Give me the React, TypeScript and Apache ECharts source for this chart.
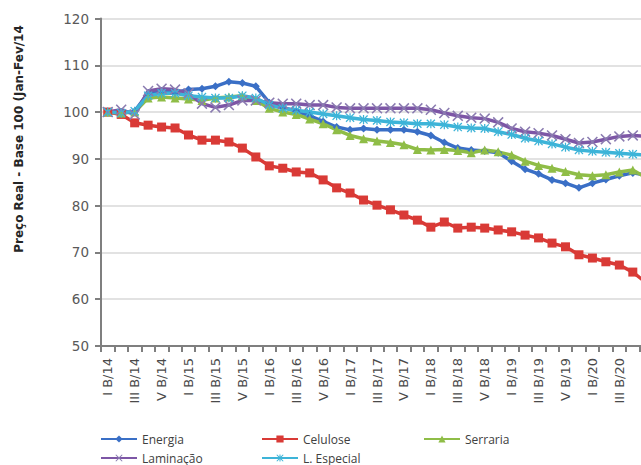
import React, { useEffect, useRef } from "react";
import * as echarts from "echarts";

const categories = [
  "I B/14", "II B/14", "III B/14", "IV B/14", "V B/14", "VI B/14",
  "I B/15", "II B/15", "III B/15", "IV B/15", "V B/15", "VI B/15",
  "I B/16", "II B/16", "III B/16", "IV B/16", "V B/16", "VI B/16",
  "I B/17", "II B/17", "III B/17", "IV B/17", "V B/17", "VI B/17",
  "I B/18", "II B/18", "III B/18", "IV B/18", "V B/18", "VI B/18",
  "I B/19", "II B/19", "III B/19", "IV B/19", "V B/19", "VI B/19",
  "I B/20", "II B/20", "III B/20", "IV B/20", "V B/20",
];

const energia = [
  100, 99.8, 100.2, 104, 104.5, 104.2, 104.8, 105, 105.5, 106.5, 106.2, 105.5,
  102, 101, 100.2, 99.2, 98, 96.8, 96.2, 96.5, 96.2, 96.2, 96.2, 95.8,
  95.0, 93.5, 92.3, 91.9, 91.7, 91.3, 89.5, 87.8, 86.8, 85.5, 84.8, 83.8,
  84.8, 85.6, 86.4, 87, 86.5,
];
const celulose = [
  100, 99.5, 97.7, 97.2, 96.8, 96.6, 95.1, 94.0, 94.0, 93.6, 92.3, 90.4,
  88.5, 88.0, 87.2, 87.0, 85.5, 83.8, 82.7, 81.2, 80.1, 79.1, 78.0, 76.9,
  75.4, 76.5, 75.2, 75.4, 75.2, 74.8, 74.4, 73.7, 73.1, 72.0, 71.2, 69.5,
  68.8, 68.0, 67.3, 65.8, 63.5,
];
const serraria = [
  100, 99.8, 100, 103, 103.2, 103, 102.8, 102.5, 103, 103.2, 103.5, 102.5,
  100.8, 100, 99.5, 98.5, 97.5, 96.2, 95, 94.3, 93.8, 93.5, 93, 92,
  91.9, 92, 91.8, 91.3, 91.9, 91.5, 90.8, 89.5, 88.6, 88, 87.3, 86.6,
  86.4, 86.6, 87.2, 87.6, 86,
];
const laminacao = [
  100, 100.5, 99.5, 104.5, 105, 104.8, 104, 101.8, 101, 101.5, 102.5, 102.5,
  102, 101.8, 101.8, 101.5, 101.5, 101, 100.8, 100.8, 100.8, 100.8, 100.8, 100.8,
  100.5, 99.8, 99.2, 98.8, 98.6, 97.8, 96.5, 95.8, 95.5, 95, 94.2, 93.4,
  93.6, 94.2, 94.8, 95, 94.8,
];
const especial = [
  100, 99.8, 100.2, 103.5, 104, 104, 103.5, 103.2, 103, 103, 103.5, 103,
  101.5, 100.8, 100.4, 100, 99.6, 99.2, 98.8, 98.4, 98.2, 97.9, 97.7, 97.5,
  97.5, 97.3, 96.8, 96.6, 96.5, 95.8, 95.2, 94.4, 93.8, 93.2, 92.5, 91.9,
  91.6, 91.4, 91.2, 91, 90.8,
];

const seriesNames = ["Energia", "Celulose", "Serraria", "Laminação", "L. Especial"];
const yTitle = "Preço Real - Base 100 (Jan-Fev/14";

const X_SYMBOL =
  "path://M0,1 L1,0 L5,4 L9,0 L10,1 L6,5 L10,9 L9,10 L5,6 L1,10 L0,9 L4,5 Z";
const STAR_SYMBOL =
  "path://M0,1 L1,0 L5,4 L9,0 L10,1 L6,5 L10,9 L9,10 L5,6 L1,10 L0,9 L4,5 Z M4.3,0 L4.3,10 L5.7,10 L5.7,0 Z";

export default function App() {
  const ref = useRef<HTMLDivElement>(null);
  useEffect(() => {
    if (!ref.current) return;
    const chart = echarts.init(ref.current, undefined, { renderer: "svg" });
    const font = "DejaVu Sans";
    const legendText = { fontFamily: "Open Sans", fontSize: 12, color: "#404040" };
    const mkLegend = (name: string, left: number, top: number) => ({
      data: [name],
      left,
      top,
      padding: 0,
      itemWidth: 36,
      itemHeight: 9,
      itemGap: 4,
      textStyle: legendText,
    });
    const mk = (
      name: string,
      data: number[],
      lineColor: string,
      markColor: string,
      symbol: string,
      symbolSize: number
    ) => ({
      name,
      type: "line",
      data,
      symbol,
      symbolSize,
      showSymbol: true,
      showAllSymbol: true,
      lineStyle: { color: lineColor, width: 3.5 },
      itemStyle: { color: markColor },
      emphasis: { disabled: true },
    });
    chart.setOption({
      animation: false,
      backgroundColor: "#ffffff",
      grid: { left: 101, right: 0, top: 18.5, bottom: 119, containLabel: false },
      xAxis: {
        type: "category",
        data: categories,
        boundaryGap: true,
        axisLine: { lineStyle: { color: "#7f7f7f", width: 2 } },
        axisTick: { show: true, interval: 0, length: 6, lineStyle: { color: "#7f7f7f", width: 2 } },
        axisLabel: {
          interval: 1,
          rotate: 90,
          margin: 12,
          fontFamily: font,
          fontSize: 13,
          color: "#4a4a4a",
        },
        splitLine: { show: false },
      },
      yAxis: {
        type: "value",
        min: 50,
        max: 120,
        interval: 10,
        axisLine: { show: true, lineStyle: { color: "#7f7f7f", width: 2 } },
        axisTick: { show: true, length: 6, lineStyle: { color: "#7f7f7f", width: 2 } },
        axisLabel: { margin: 12, fontFamily: font, fontSize: 13.5, color: "#595959" },
        splitLine: { show: true, lineStyle: { color: "#d9d9d9", width: 1.5 } },
      },
      legend: [
        mkLegend(seriesNames[0], 100, 433),
        mkLegend(seriesNames[1], 261, 433),
        mkLegend(seriesNames[2], 423, 433),
        mkLegend(seriesNames[3], 100, 452),
        mkLegend(seriesNames[4], 261, 452),
      ],
      graphic: [
        {
          type: "text",
          x: 19,
          y: 139,
          rotation: Math.PI / 2,
          style: {
            text: yTitle,
            font: "bold 12px 'DejaVu Sans'",
            fill: "#262626",
            align: "center",
            verticalAlign: "middle",
          },
        },
      ],
      series: [
        mk(seriesNames[0], energia, "#3a6fc6", "#3a6fc6", "diamond", 8),
        mk(seriesNames[1], celulose, "#d93a36", "#d93a36", "rect", 9),
        mk(seriesNames[2], serraria, "#8fbd47", "#8fbd47", "triangle", 9),
        mk(seriesNames[3], laminacao, "#7d56a6", "#8a7bb0", X_SYMBOL, 11),
        mk(seriesNames[4], especial, "#3db4d8", "#3db4d8", STAR_SYMBOL, 9),
      ],
    });
    return () => chart.dispose();
  }, []);
  return (
    <div
      style={{
        position: "fixed",
        left: 0,
        top: 0,
        width: 641,
        height: 465,
        overflow: "hidden",
        background: "#fff",
      }}
    >
      <div ref={ref} style={{ width: 653, height: 465 }} />
    </div>
  );
}
